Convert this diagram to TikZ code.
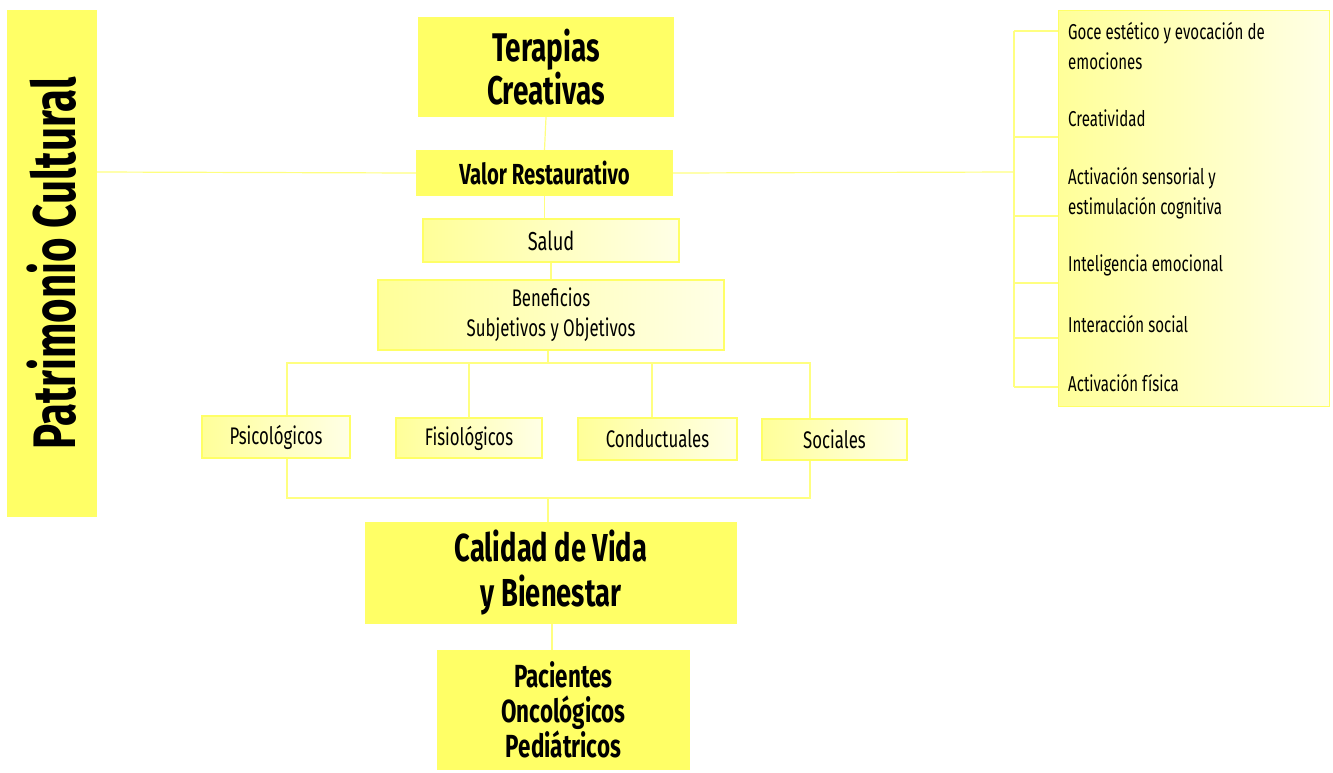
\documentclass[tikz,border=0pt]{standalone}
\usepackage{fontspec}
\setmainfont{Fira Sans}[FakeStretch=0.7]
\usetikzlibrary{shadings}
\definecolor{ylw}{HTML}{FFFF66}
\definecolor{ylwline}{HTML}{FFFF80}
\definecolor{lt1}{HTML}{FFFF99}
\definecolor{lt2}{HTML}{FFFFE6}
\tikzset{
  strong/.style={fill=ylw, draw=none, inner sep=0pt, align=center, font=\bfseries},
  soft/.style={draw=ylw, line width=1.2pt, inner sep=0pt, align=center,
    shading=axis, shading angle=135, left color=lt1, right color=lt2},
  conn/.style={draw=ylwline, line width=1.2pt},
  item/.style={anchor=west, inner sep=0pt, align=left, font=\fontsize{21.5}{30}\selectfont}
}
\begin{document}
\begin{tikzpicture}[x=1pt,y=-1pt]
\useasboundingbox (0,0) rectangle (1333,772);
% main boxes
\node[strong, minimum width=507, minimum height=90, rotate=90] (pat) at (52,263.5)
  {\fontsize{60}{60}\selectfont Patrimonio Cultural};
\coordinate (patR) at (97,172);
\node[strong, minimum width=256, minimum height=100, font=\bfseries\fontsize{40}{43}\selectfont] (ter) at (546,67) {Terapias\\Creativas};
\node[strong, minimum width=257, minimum height=46, font=\bfseries\fontsize{29}{30}\selectfont] (val) at (544.5,173) {Valor Restaurativo};
\node[soft, minimum width=256, minimum height=43, font=\fontsize{26}{30}\selectfont] (sal) at (551,240.5) {Salud};
\node[soft, minimum width=346, minimum height=70, font=\fontsize{24}{30}\selectfont] (ben) at (551,315) {Beneficios\\Subjetivos y Objetivos};
\node[soft, minimum width=148, minimum height=42, font=\fontsize{24}{26}\selectfont] (psi) at (276,437) {Psicológicos};
\node[soft, minimum width=146, minimum height=40, font=\fontsize{24}{26}\selectfont] (fis) at (469,438) {Fisiológicos};
\node[soft, minimum width=159, minimum height=42, font=\fontsize{24}{26}\selectfont] (con) at (657.5,439) {Conductuales};
\node[soft, minimum width=145, minimum height=41, font=\fontsize{24}{26}\selectfont] (soc) at (834.5,439.5) {Sociales};
\node[strong, minimum width=372, minimum height=102, font=\bfseries\fontsize{39}{45}\selectfont] (cal) at (551,573) {Calidad de Vida\\y Bienestar};
\node[strong, minimum width=253, minimum height=120, font=\bfseries\fontsize{32}{35}\selectfont] (pac) at (563.5,710) {Pacientes\\Oncológicos\\Pediátricos};
% right box
\node[soft, minimum width=271, minimum height=396, anchor=north west] (lst) at (1058,10) {};
\coordinate (b0) at (1014,172);
\coordinate (t1) at (1014,31);
\coordinate (t2) at (1014,137);
\coordinate (t3) at (1014,216);
\coordinate (t4) at (1014,283);
\coordinate (t5) at (1014,338);
\coordinate (t6) at (1014,387);
\node[item] (i1) at (1068,46) {Goce estético y evocación de\\emociones};
\node[item] (i2) at (1068,118) {Creatividad};
\node[item] (i3) at (1068,193) {Activación sensorial y\\estimulación cognitiva};
\node[item] (i4) at (1068,265) {Inteligencia emocional};
\node[item] (i5) at (1068,324) {Interacción social};
\node[item] (i6) at (1068,383) {Activación física};
% connectors
\draw[conn] (ter.south) -- (val.north);
\draw[conn] (val.south) -- (val.south |- sal.north);
\draw[conn] (sal.south) -- (ben.north);
\draw[conn] (patR) -- (val.west);
\draw[conn] (val.east) -- (b0);
\draw[conn] (t1) -- (t6);
\foreach \t in {t1,t2,t3,t4,t5,t6} \draw[conn] (\t) -- (\t -| lst.west);
\coordinate (bus1) at (548,363);
\coordinate (bus2) at (548,498);
\draw[conn] (ben.south -| bus1) -- (bus1);
\draw[conn] (psi.north -| 287,0) |- (bus1) -| (soc.north -| 810,0);
\draw[conn] (fis.north) -- (fis.north |- bus1);
\draw[conn] (con.north -| 652,0) -- (652,363);
\draw[conn] (psi.south -| 287,0) |- (bus2) -| (soc.south -| 810,0);
\draw[conn] (bus2) -- (cal.north -| bus2);
\draw[conn] (cal.south -| 552,0) -- (pac.north -| 552,0);
\end{tikzpicture}
\end{document}
